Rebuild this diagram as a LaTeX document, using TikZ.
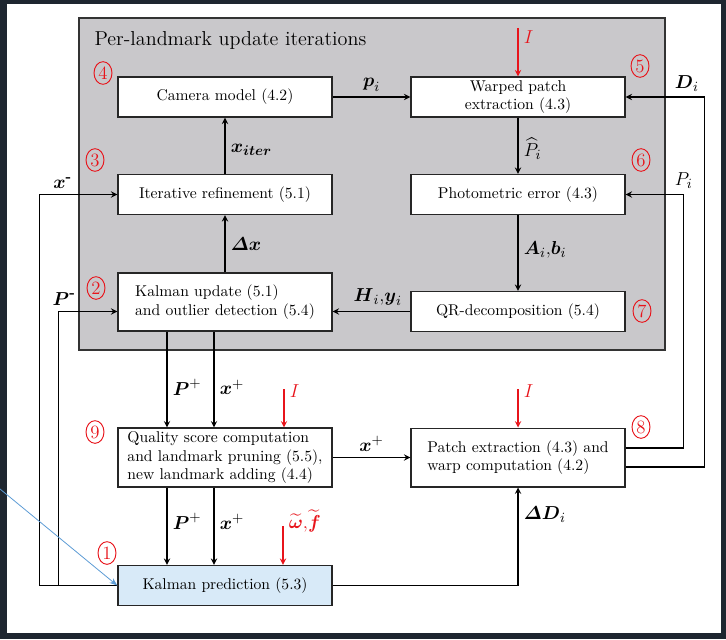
\documentclass[tikz,border=0pt]{standalone}
\usepackage{amsmath,amssymb}
\usepackage{xcolor}
\usepackage{tikz}
\usetikzlibrary{arrows.meta,positioning,calc,shapes.geometric}
\definecolor{FrameDark}{HTML}{1E2630}
\definecolor{LoopGray}{HTML}{C9C8CB}
\definecolor{PredBlue}{HTML}{D8EAF8}
\definecolor{PointerBlue}{HTML}{5B9BD5}
\definecolor{InputRed}{HTML}{E8141B}

\begin{document}
\begin{tikzpicture}[
    x=0.64pt,y=-0.64pt,
    >=stealth,
    block/.style={draw=black!85,fill=white,line width=0.9pt,minimum width=137pt,minimum height=25.6pt,align=center,inner sep=2pt},
    tallblock/.style={block,minimum height=37.5pt,align=left},
    flow/.style={line width=0.8pt,->},
    input/.style={line width=0.8pt,->,InputRed},
    lab/.style={font=\fontsize{13}{15}\selectfont},
    badge/.style={ellipse,draw=InputRed,text=InputRed,line width=0.6pt,inner sep=0pt,minimum width=11.5pt,minimum height=14.5pt,font=\fontsize{12}{14}\selectfont}
  ]
    % screenshot frame
    \fill[FrameDark] (0,0) rectangle (726,639);
    \fill[white] (7,4) rectangle (721,633);
    \useasboundingbox (0,0) rectangle (726,639);

    % iteration loop
    \draw[draw=black!80,fill=LoopGray,line width=0.9pt] (79,18) rectangle (665,350);
    \node[anchor=west,font=\fontsize{12.9}{15}\selectfont] (looptitle) at (89,40) {Per-landmark update iterations};

    \node[block] (cam) at (225,97) {Camera model (4.2)};
    \node[block] (warp) at (518,97) {Warped patch\\extraction (4.3)};
    \node[block] (iter) at (225,194.5) {Iterative refinement (5.1)};
    \node[block] (photo) at (518,194.5) {Photometric error (4.3)};
    \node[tallblock,minimum height=37.1pt] (kupd) at (225,302) {Kalman update (5.1)\\and outlier detection (5.4)};
    \node[block] (qr) at (518,311.5) {QR-decomposition (5.4)};
    \node[tallblock] (qual) at (225,457.5) {Quality score computation\\and landmark pruning (5.5),\\new landmark adding (4.4)};
    \node[tallblock] (patch) at (518,457.5) {Patch extraction (4.3) and\\warp computation (4.2)};
    \node[block,fill=PredBlue] (kpred) at (225,585.5) {Kalman prediction (5.3)};

    \node[badge] (n1) at (107,553) {1};
    \node[badge] (n2) at (96,288) {2};
    \node[badge] (n3) at (95,160) {3};
    \node[badge] (n4) at (103,73) {4};
    \node[badge] (n5) at (640,66) {5};
    \node[badge] (n6) at (641,160) {6};
    \node[badge] (n7) at (642,311) {7};
    \node[badge] (n8) at (641,427) {8};
    \node[badge] (n9) at (95,432) {9};

    % inside the loop
    \draw[flow] (cam) -- node[lab,above] {$\boldsymbol{p}_i$} (warp);
    \draw[flow] (iter) -- node[lab,right,pos=0.43] {$\boldsymbol{x}_{\boldsymbol{iter}}$} (cam);
    \draw[flow] (kupd) -- node[lab,right] {$\boldsymbol{\varDelta x}$} (iter);
    \draw[flow] (warp) -- node[lab,right,pos=0.55] {$\widehat{P}_i$} (photo);
    \draw[flow] (photo) -- node[lab,right,pos=0.46] {$\boldsymbol{A}_i{,}\boldsymbol{b}_i$} (qr);
    \draw[flow] (qr) -- node[lab,above,pos=0.42] {$\boldsymbol{H}_i{,}\boldsymbol{y}_i$} (qr -| kupd.east);

    % image inputs
    \coordinate (imgwarp) at (518,28);
    \coordinate (imgqual) at (284,389);
    \coordinate (imgpatch) at (518,389);
    \coordinate (noise) at (283,526);
    \draw[input] (imgwarp) -- node[lab,right,pos=0.18] {$I$} (warp);
    \draw[input] (imgqual) -- node[lab,right,pos=0.05] {$I$} (imgqual |- qual.north);
    \draw[input] (imgpatch) -- node[lab,right,pos=0.05] {$I$} (patch);
    \draw[input] (noise) -- node[lab,right,pos=0,yshift=3pt,text=InputRed] {$\widetilde{\boldsymbol{\omega}}{,}\widetilde{\boldsymbol{f}}$} (noise |- kpred.north);

    % state out of the loop
    \draw[flow] ($(kupd.south)+(-58,0)$) -- node[lab,right,pos=0.58] {$\boldsymbol{P}^+$} ($(qual.north)+(-58,0)$);
    \draw[flow] ($(kupd.south)+(-11,0)$) -- node[lab,right,pos=0.58] {$\boldsymbol{x}^+$} ($(qual.north)+(-11,0)$);
    \draw[flow] ($(qual.south)+(-58,0)$) -- node[lab,right,pos=0.44] {$\boldsymbol{P}^+$} ($(kpred.north)+(-58,0)$);
    \draw[flow] ($(qual.south)+(-11,0)$) -- node[lab,right,pos=0.44] {$\boldsymbol{x}^+$} ($(kpred.north)+(-11,0)$);
    \draw[flow] (qual) -- node[lab,above] {$\boldsymbol{x}^+$} (qual -| patch.west);

    % feedback lines
    \draw[flow] ($(patch.east)+(0,-9.5)$) -- ++(58,0) |- node[lab,above,pos=0.5] {$P_i$} (photo);
    \draw[flow] ($(patch.east)+(0,9.5)$) -- ++(79,0) |- node[lab,above left,pos=0.5] {$\boldsymbol{D}_i$} (warp);
    \draw[flow] (kpred) -| node[lab,right,pos=0.86] {$\boldsymbol{\varDelta D}_i$} (patch);
    \draw[flow] (kpred.west) -- ++(-78,0) |- node[lab,above,pos=0.65] {$\boldsymbol{x}^{\textbf{-}}$} (iter);
    \draw[flow] (kpred.west) -- ++(-59,0) |- node[lab,above,pos=0.55] {$\boldsymbol{P}^{\textbf{-}}$} (kupd.west |- qr.west);

    % annotation pointer
    \coordinate (pointerstart) at (0,489);
    \draw[PointerBlue,line width=0.5pt,-{Stealth[length=5pt]}] (pointerstart) -- (kpred.west);
  \end{tikzpicture}
\end{document}
